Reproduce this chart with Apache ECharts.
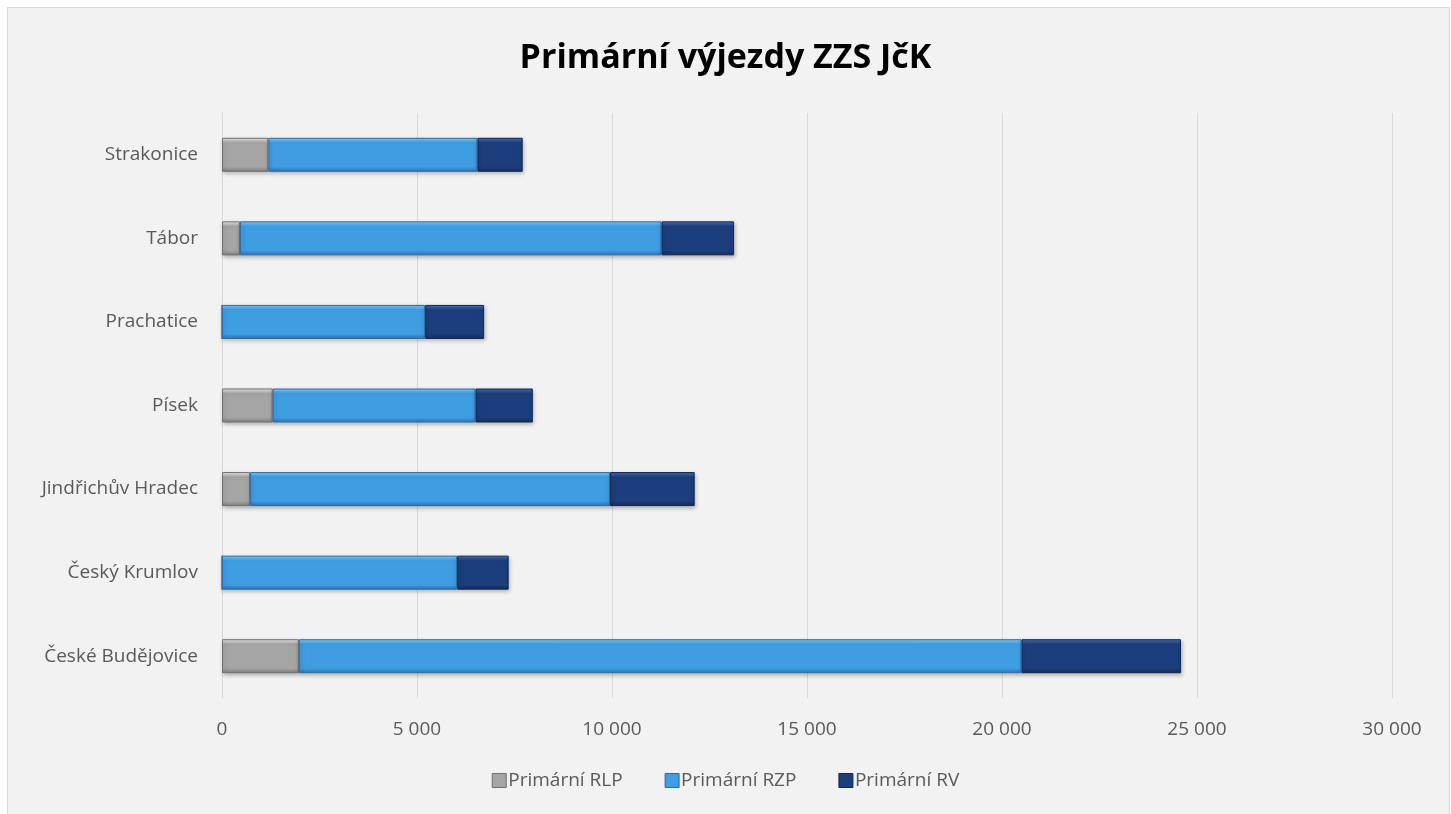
<!DOCTYPE html>
<html>
<head>
<meta charset="utf-8">
<script src="https://cdn.jsdelivr.net/npm/echarts@6/dist/echarts.min.js"></script>
<style>
  html, body { margin: 0; padding: 0; background: #ffffff; }
  #frame { position: absolute; left: 7px; top: 7px; width: 1441px; height: 820px;
           background: #f2f2f2; border: 1px solid #d9d9d9; }
  #main { position: absolute; left: 0; top: 0; width: 1451px; height: 814px; }
</style>
</head>
<body>
<div id="frame"></div>
<div id="main"></div>
<script>
// kategorie odspodu nahoru (jak je kreslí ECharts)
var categories = ['České Budějovice', 'Český Krumlov', 'Jindřichův Hradec', 'Písek', 'Prachatice', 'Tábor', 'Strakonice'];
var seriesNames = ['Primární RLP', 'Primární RZP', 'Primární RV'];
var rlp = [1970, 0, 720, 1300, 0, 460, 1190];
var rzp = [18530, 6030, 9230, 5200, 5210, 10810, 5360];
var rv  = [4090, 1320, 2170, 1470, 1510, 1860, 1160];

var font = '"Open Sans", "Noto Sans", sans-serif';

function bevel(top, mid, bottom){
	return new echarts.graphic.LinearGradient(0, 0, 0, 1, [
		{offset: 0, color: top},
		{offset: 0.15, color: mid},
		{offset: 0.85, color: mid},
		{offset: 1, color: bottom}
	]);
}

var colors = [
	bevel('#ececec', '#a5a5a5', '#7f7f7f'),
	bevel('#86ccf7', '#3f9de2', '#2a75b8'),
	bevel('#4a70b5', '#1d3e7c', '#142c5c')
];
var edge = ['#6f6f6f', '#2c6aa8', '#102650'];
var legendColors = ['#a5a5a5', '#3f9de2', '#1d3e7c'];

var myChart = echarts.init(document.getElementById('main'));

function makeSeries(idx, data){
	return {
		name: seriesNames[idx],
		type: 'bar',
		stack: 'total',
		barWidth: 34,
		data: data,
		itemStyle: {
			color: colors[idx],
			borderColor: edge[idx],
			borderWidth: 1,
			shadowColor: 'rgba(0,0,0,0.25)',
			shadowBlur: 4,
			shadowOffsetX: 1,
			shadowOffsetY: 2
		}
	};
}

var option = {
	backgroundColor: 'transparent',
	animation: false,
	title: {
		text: 'Primární výjezdy ZZS JčK',
		left: 'center',
		top: 36,
		textStyle: { fontFamily: font, fontSize: 34, fontWeight: 'bold', color: '#000000' }
	},
	legend: {
		bottom: 19,
		left: 'center',
		itemWidth: 14,
		itemHeight: 14,
		itemGap: 42,
		icon: 'rect',
		textStyle: { fontFamily: font, fontSize: 19, color: '#595959', padding: [0, 0, 0, -3] },
		data: seriesNames.map(function(n, i){
			return { name: n, itemStyle: { color: legendColors[i], borderColor: edge[i], borderWidth: 1 } };
		})
	},
	grid: {
		left: 222,
		right: 59,
		top: 113,
		bottom: 116,
		containLabel: false
	},
	xAxis: {
		type: 'value',
		min: 0,
		max: 30000,
		interval: 5000,
		axisLine: { show: false },
		axisTick: { show: false },
		splitLine: { lineStyle: { color: '#d9d9d9', width: 1 } },
		axisLabel: {
			margin: 22,
			fontFamily: font,
			fontSize: 19,
			color: '#595959',
			formatter: function(v){ return v >= 1000 ? Math.floor(v / 1000) + ' ' + ('00' + (v % 1000)).slice(-3) : v; }
		}
	},
	yAxis: {
		type: 'category',
		data: categories,
		axisLine: { show: true, lineStyle: { color: '#d9d9d9', width: 1 } },
		axisTick: { show: false },
		axisLabel: { margin: 24, fontFamily: font, fontSize: 19, color: '#595959' }
	},
	series: [
		makeSeries(0, rlp),
		makeSeries(1, rzp),
		makeSeries(2, rv)
	]
};

myChart.setOption(option);
</script>
</body>
</html>
